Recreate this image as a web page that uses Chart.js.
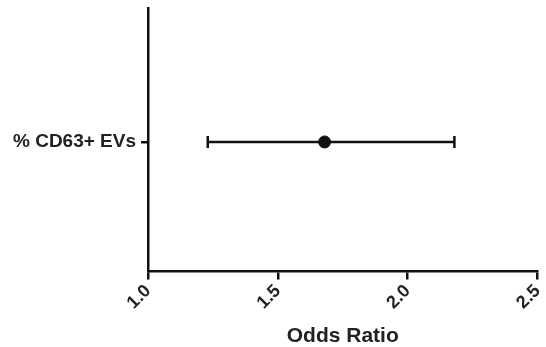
<!DOCTYPE html>
<html lang="en">
<head>
  <meta charset="UTF-8">
  <title>Odds Ratio</title>
  <script src="https://cdn.jsdelivr.net/npm/chart.js"></script>
  <style>
    body { margin: 0; background: #fff; }
    .chart-box { width: 546px; height: 347px; }
  </style>
</head>
<body>
<div class="chart-box">
  <canvas id="chart-or"></canvas>
</div>
<script>
// valeurs
const categories = ['% CD63+ EVs'];
const oddsRatio = [1.68];
const ciLow = [1.23];
const ciHigh = [2.18];
const xTicks = [1.0, 1.5, 2.0, 2.5];

const ink = '#111';

new Chart(document.getElementById('chart-or'), {
  type: 'scatter',
  data: {
    datasets: [
      {
        // barre d'erreur (IC 95%)
        type: 'line',
        data: [{ x: ciLow[0], y: 1 }, { x: ciHigh[0], y: 1 }],
        borderColor: ink,
        borderWidth: 2.5,
        pointStyle: 'line',
        rotation: 90,
        pointRadius: 6,
        pointBorderWidth: 2.5,
        pointBorderColor: ink,
        fill: false
      },
      {
        data: [{ x: oddsRatio[0], y: 1 }],
        backgroundColor: ink,
        borderColor: ink,
        pointRadius: 6
      }
    ]
  },
  options: {
    responsive: true,
    maintainAspectRatio: false,
    animation: false,
    layout: { padding: { top: 8, right: 0, left: 8, bottom: 0.5 } },
    plugins: { legend: { display: false }, tooltip: { enabled: false } },
    scales: {
      x: {
        type: 'linear',
        min: xTicks[0],
        max: xTicks[xTicks.length - 1],
        afterBuildTicks: axis => { axis.ticks = xTicks.map(v => ({ value: v })); },
        // les étiquettes tournées finissent sur le tick : pas de marge en plus
        afterFit: axis => { axis.paddingLeft = 0; axis.paddingRight = 0; },
        border: { color: ink, width: 2.5 },
        grid: { drawOnChartArea: false, color: ink, lineWidth: 2.5, tickLength: 8 },
        ticks: {
          color: '#222',
          minRotation: 45,
          maxRotation: 45,
          padding: 1,
          font: { family: 'Liberation Sans', size: 18, weight: 'bold' },
          callback: v => v.toFixed(1)
        },
        title: {
          display: true,
          text: 'Odds Ratio',
          color: '#222',
          padding: { top: 11, bottom: 0 },
          font: { family: 'Liberation Sans', size: 21, weight: 'bold', lineHeight: 1 }
        }
      },
      y: {
        type: 'linear',
        min: 0,
        max: 2.03,
        afterBuildTicks: axis => { axis.ticks = [{ value: 1 }]; },
        afterFit: axis => { axis.paddingTop = 0; axis.paddingBottom = 0; },
        border: { color: ink, width: 2.5 },
        grid: { drawOnChartArea: false, color: ink, lineWidth: 2.5, tickLength: 7 },
        ticks: {
          color: '#222',
          padding: 5,
          font: { family: 'Liberation Sans', size: 19, weight: 'bold' },
          callback: () => categories[0]
        }
      }
    }
  }
});
</script>
</body>
</html>
